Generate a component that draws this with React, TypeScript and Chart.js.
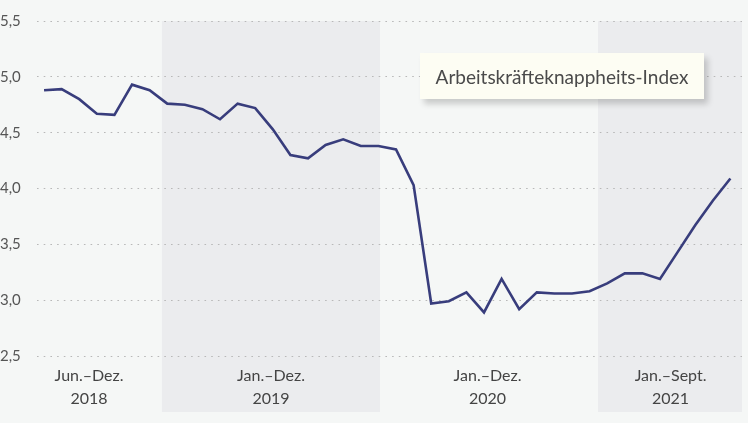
import React, { useEffect, useRef } from "react";
import { Chart, registerables } from "chart.js";

Chart.register(...registerables);

// Monthly index values, Jun 2018 – Sep 2021
const values2018: number[] = [4.88, 4.89, 4.8, 4.67, 4.66, 4.93, 4.88];
const values2019: number[] = [4.76, 4.75, 4.71, 4.62, 4.76, 4.72, 4.53, 4.3, 4.27, 4.39, 4.44, 4.38];
const values2020: number[] = [4.38, 4.35, 4.03, 2.97, 2.99, 3.07, 2.89, 3.19, 2.92, 3.07, 3.06, 3.06];
const values2021: number[] = [3.08, 3.15, 3.24, 3.24, 3.19, 3.43, 3.67, 3.89, 4.09];

const periodLabels: string[] = ["Jun.–Dez.", "Jan.–Dez.", "Jan.–Dez.", "Jan.–Sept."];
const yearLabels: string[] = ["2018", "2019", "2020", "2021"];
// label centres and shaded bands, in month-index units
const labelCenters: number[] = [2.56, 12.9, 25.2, 35.6];
const bandStarts: number[] = [6.7, 31.48];
const bandEnds: number[] = [19.09, 39.66];

const yTicks: number[] = [2.5, 3.0, 3.5, 4.0, 4.5, 5.0, 5.5];
const seriesName = "Arbeitskräfteknappheits-Index";

const FONT = "Lato, 'Noto Sans', sans-serif";

export default function App() {
  const ref = useRef<HTMLCanvasElement | null>(null);

  useEffect(() => {
    const values = [...values2018, ...values2019, ...values2020, ...values2021];
    const data = values.map((v, i) => ({ x: i, y: v }));

    const bandsPlugin = {
      id: "bands",
      beforeDraw(chart: any) {
        const { ctx, chartArea, scales } = chart;
        const xs = scales.x;
        ctx.save();
        ctx.fillStyle = "#ebecee";
        for (let i = 0; i < bandStarts.length; i++) {
          const x0 = xs.getPixelForValue(bandStarts[i]);
          const x1 = xs.getPixelForValue(bandEnds[i]);
          ctx.fillRect(x0, chartArea.top, x1 - x0, chartArea.bottom - chartArea.top + 56);
        }
        ctx.restore();
      },
      afterDraw(chart: any) {
        const { ctx, chartArea, scales } = chart;
        const xs = scales.x;
        ctx.save();
        ctx.fillStyle = "#444";
        ctx.textAlign = "center";
        ctx.textBaseline = "middle";
        ctx.font = `16px ${FONT}`;
        for (let i = 0; i < labelCenters.length; i++) {
          const x = xs.getPixelForValue(labelCenters[i]);
          ctx.fillText(periodLabels[i], x, chartArea.bottom + 20);
          ctx.fillText(yearLabels[i], x, chartArea.bottom + 43);
        }
        ctx.restore();
      },
    };

    const chart = new Chart(ref.current as HTMLCanvasElement, {
      type: "line",
      data: {
        datasets: [
          {
            label: seriesName,
            data,
            borderColor: "#383d7c",
            borderWidth: 2.6,
            pointRadius: 0,
            tension: 0,
            fill: false,
          },
        ],
      },
      options: {
        animation: false,
        responsive: true,
        maintainAspectRatio: false,
        layout: { padding: { top: 21, right: 6, bottom: 67, left: 0 } },
        plugins: { legend: { display: false }, tooltip: { enabled: false } },
        scales: {
          x: { type: "linear", min: -0.4, max: 39.66, display: false },
          y: {
            min: 2.5,
            max: 5.5,
            afterFit(s: any) {
              s.width = 37;
            },
            afterBuildTicks(s: any) {
              s.ticks = yTicks.map((v) => ({ value: v }));
            },
            border: { display: false, dash: [1.6, 5.1] },
            grid: {
              drawTicks: false,
              color: "#b8b8b8",
              lineWidth: 1,
            },
            ticks: {
              padding: 11,
              crossAlign: "far",
              color: "#555",
              font: { family: FONT, size: 15 },
              callback: (v: any) => Number(v).toFixed(1).replace(".", ","),
            },
          },
        },
      },
      plugins: [bandsPlugin],
    } as any);

    return () => chart.destroy();
  }, []);

  return (
    <div
      style={{
        position: "fixed",
        left: 0,
        top: 0,
        width: 748,
        height: 423,
        background: "#f5f7f6",
      }}
    >
      <canvas ref={ref} />
      <div
        style={{
          position: "absolute",
          left: 420,
          top: 53,
          width: 284,
          height: 46,
          background: "#fdfdf3",
          boxShadow: "4px 5px 6px rgba(0,0,0,0.18)",
          display: "flex",
          alignItems: "center",
          justifyContent: "center",
          fontFamily: FONT,
          fontSize: 19,
          color: "#4a4a4a",
        }}
      >
        {seriesName}
      </div>
    </div>
  );
}
